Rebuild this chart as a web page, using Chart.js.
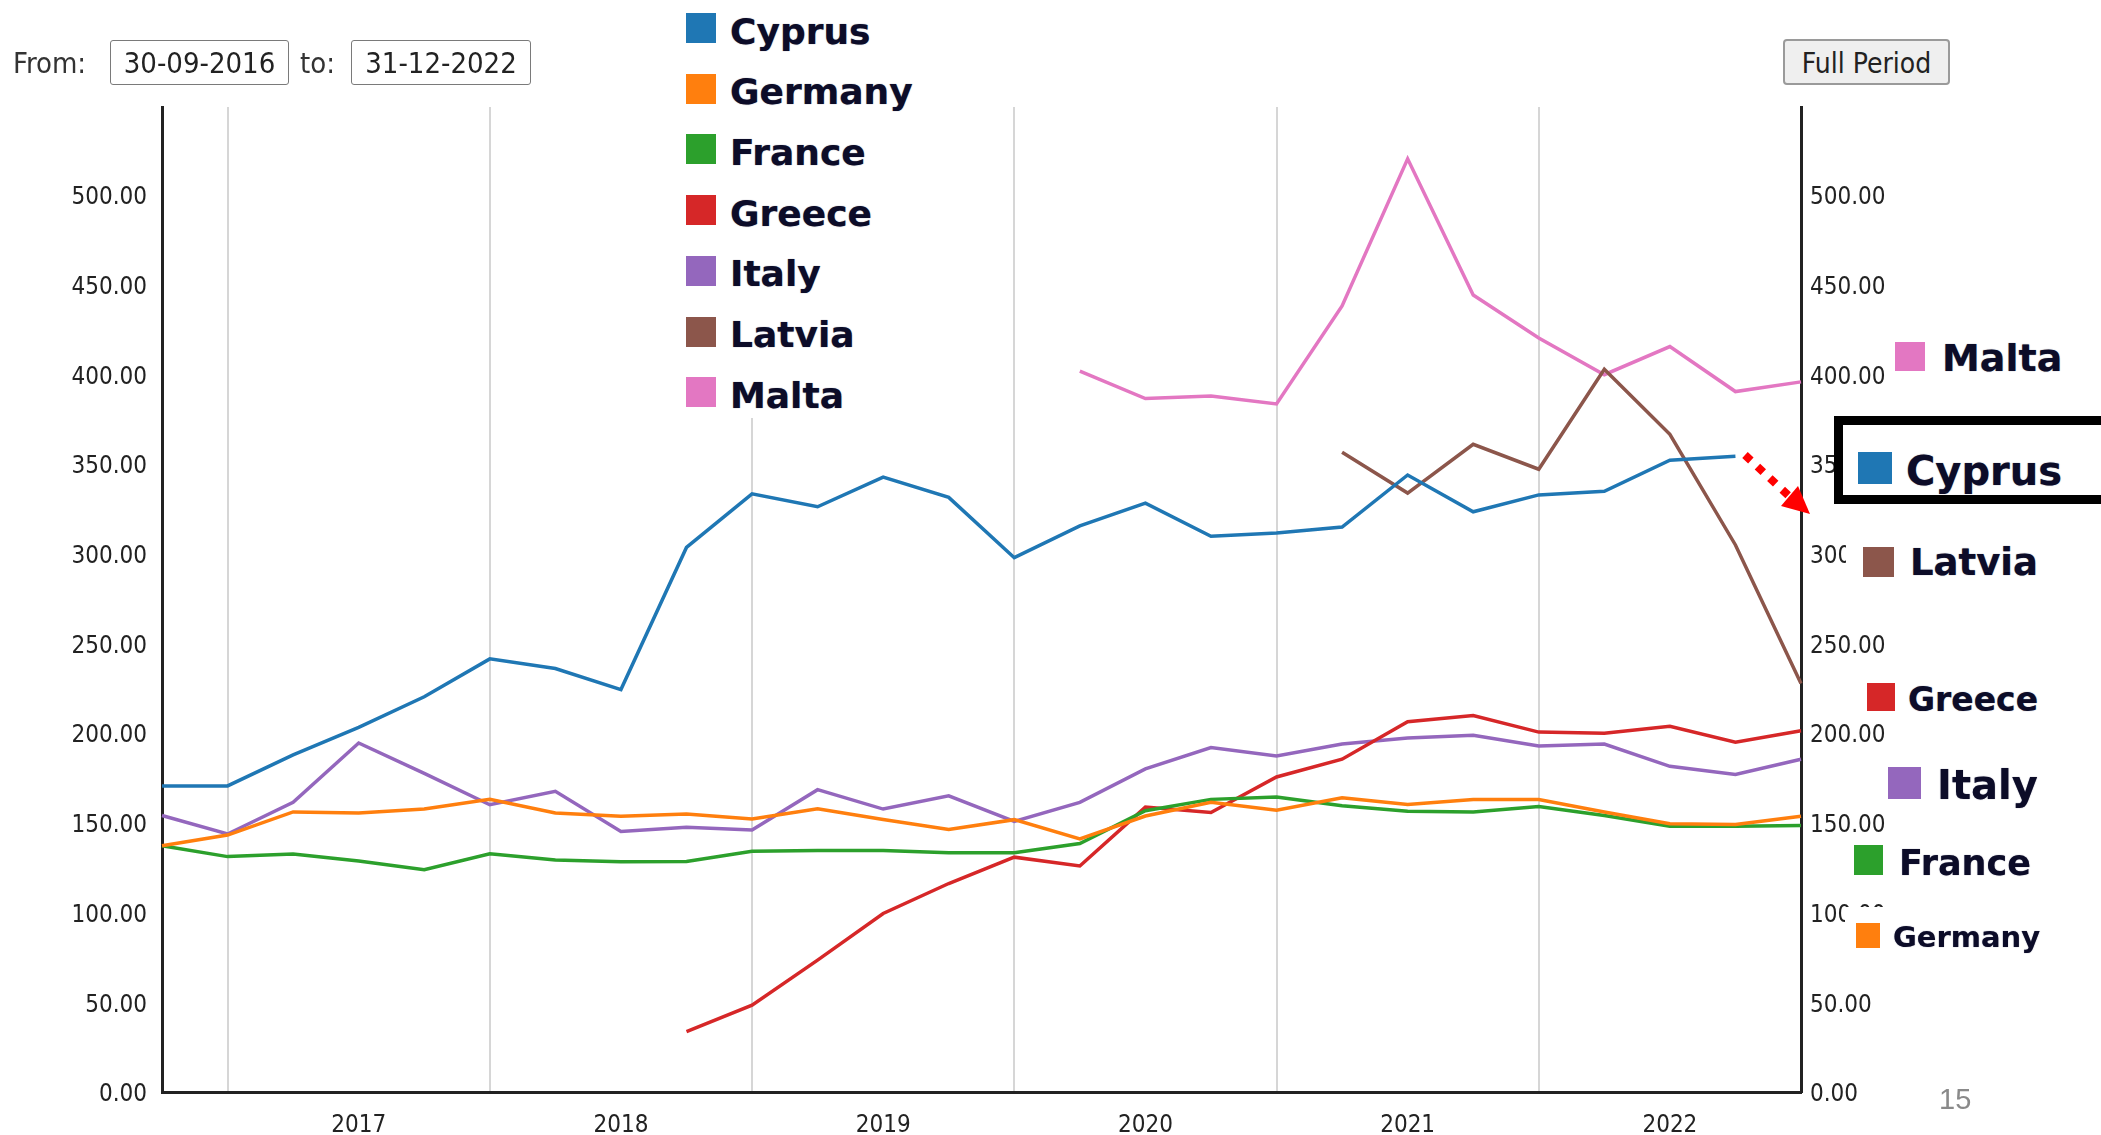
<!DOCTYPE html>
<html>
<head>
<meta charset="utf-8">
<title>Country series 2016-2022</title>
<script src="https://cdn.jsdelivr.net/npm/chart.js@4.4.0/dist/chart.umd.min.js"></script>
<style>
  html, body { margin:0; padding:0; background:#fff; }
  #page { position:relative; width:2101px; height:1135px; overflow:hidden; background:#fff; }
  #wrap { position:absolute; left:0; top:0; width:2101px; height:1135px; }
  .cond { font-family:"DejaVu Sans Condensed","DejaVu Sans",sans-serif; font-stretch:condensed; }
  .lbl { position:absolute; font-size:29px; color:#333; line-height:45px; top:41px; }
  .inp { position:absolute; top:40px; height:43px; border:1px solid #7a7a7a; border-radius:3px; background:#fff;
         font-size:29px; color:#222; line-height:45px; text-align:center; }
  .btn { position:absolute; left:1783px; top:39px; width:163px; height:42px; border:2px solid #9a9a9a; border-radius:4px;
         background:#efefef; font-size:28px; color:#222; line-height:45px; text-align:center; }
  #legend { position:absolute; left:678px; top:0; width:250px; height:418px; background:#fff; }
  .sq { position:absolute; }
  .tx { position:absolute; font-family:"DejaVu Sans",Verdana,sans-serif; font-weight:bold; line-height:1; color:#0c0c28; white-space:nowrap;
        text-shadow:0 0 1px rgba(20,20,60,.6); }
  .side { position:absolute; background:#fff; }
  #pageno { position:absolute; left:1939px; top:1083px; font-family:"Liberation Sans",Arial,sans-serif; font-size:29px; color:#8a8a8a; }
  svg { position:absolute; left:0; top:0; }
</style>
</head>
<body>
<div id="page">
  <div id="wrap"><canvas id="chart"></canvas></div>

  <div class="lbl cond" style="left:13px;">From:</div>
  <div class="inp cond" style="left:110px; width:177px;">30-09-2016</div>
  <div class="lbl cond" style="left:300px;">to:</div>
  <div class="inp cond" style="left:351px; width:178px;">31-12-2022</div>
  <div class="btn cond">Full Period</div>

  <div id="legend"></div>
  <div id="sidelabels"></div>

  <svg width="2101" height="1135">
    <line x1="1745" y1="455" x2="1790" y2="497" stroke="#ff0000" stroke-width="8" stroke-dasharray="8 9"/>
    <polygon points="1781,506 1798,486 1810,514" fill="#ff0000"/>
  </svg>

  <div id="pageno">15</div>
</div>

<script>
// ── DATOS ──
var quarters = ['2016-Q3','2016-Q4',
  '2017-Q1','2017-Q2','2017-Q3','2017-Q4',
  '2018-Q1','2018-Q2','2018-Q3','2018-Q4',
  '2019-Q1','2019-Q2','2019-Q3','2019-Q4',
  '2020-Q1','2020-Q2','2020-Q3','2020-Q4',
  '2021-Q1','2021-Q2','2021-Q3','2021-Q4',
  '2022-Q1','2022-Q2','2022-Q3','2022-Q4'];
var xTickLabels = ['','',
  '','2017','','',
  '','2018','','',
  '','2019','','',
  '','2020','','',
  '','2021','','',
  '','2022','',''];
var yearEndIdx = [1,5,9,13,17,21];
var yTicks = [0,50,100,150,200,250,300,350,400,450,500];

var countries = ['Cyprus','Germany','France','Greece','Italy','Latvia','Malta'];
var colors    = ['#1f77b4','#ff7f0e','#2ca02c','#d62728','#9467bd','#8c564b','#e377c2'];

var cyprus  = [170.6,170.6,187.9,203.2,220.3,241.4,236.0,224.3,303.5,333.4,326.2,342.7,331.4,297.8,315.5,328.2,309.7,311.5,314.9,343.9,323.4,332.8,334.8,352.1,354.3,null];
var germany = [137.2,143.2,156.1,155.5,157.7,163.1,155.5,153.7,155.0,152.2,157.8,151.9,146.3,151.8,141.0,153.8,161.5,157.1,164.0,160.3,163.0,163.0,156.1,149.5,149.1,153.7];
var france  = [137.2,131.2,132.6,128.7,123.9,132.8,129.3,128.3,128.5,134.2,134.6,134.6,133.4,133.3,138.5,156.8,163.1,164.4,159.5,156.5,156.1,159.1,154.1,148.1,148.1,148.5];
var greece  = [null,null,null,null,null,null,null,null,33.6,48.4,73.5,99.5,116.2,130.9,126.0,158.8,155.8,175.6,185.5,206.4,209.8,200.6,200.0,203.8,194.9,201.4];
var italy   = [154.1,143.8,161.5,194.5,177.6,160.1,167.6,145.2,147.5,146.0,168.5,157.7,165.1,150.8,161.4,180.1,192.0,187.3,193.9,197.3,198.8,192.9,193.9,181.5,177.0,185.5];
var latvia  = [null,null,null,null,null,null,null,null,null,null,null,null,null,null,null,null,null,null,356.6,333.8,361.0,347.1,402.8,366.6,304.9,227.7];
var malta   = [null,null,null,null,null,null,null,null,null,null,null,null,null,null,401.8,386.5,387.9,383.5,438.1,520.1,444.2,420.3,399.8,415.5,390.4,395.8];

var series = [cyprus, germany, france, greece, italy, latvia, malta];

// ── LEYENDA SUPERIOR ──
var legendEl = document.getElementById('legend');
countries.forEach(function(c, i) {
  var y = 13 + i * 60.7;
  legendEl.innerHTML += '<div class="sq" style="left:' + (686-678) + 'px;top:' + y + 'px;width:30px;height:30px;background:' + colors[i] + '"></div>' +
    '<div class="tx" style="left:' + (730-678) + 'px;top:' + (y + 0.5) + 'px;font-size:36px">' + c + '</div>';
});

// ── ETIQUETAS LATERALES (anotaciones de la diapositiva) ──
// [nombre, caja(x,y,w,h), cuadro(x,y,w,h), texto(x, top), tamaño]
var sideLayout = [
  ['Malta',   [1890,332,211,50], [1895,342,30,29], [1942,339], 38],
  ['Latvia',  [1846,530,255,62], [1863,547,31,30], [1910,544], 37],
  ['Greece',  [1858,670,243,52], [1867,683,28,28], [1908,683], 33],
  ['Italy',   [1878,755,223,55], [1888,767,33,32], [1937,765], 40],
  ['France',  [1845,838,256,50], [1854,845,29,30], [1899,846], 35],
  ['Germany', [1845,907,256,53], [1856,923,24,25], [1893,923], 29]
];
var sideEl = document.getElementById('sidelabels');
var html = '';
sideLayout.forEach(function(s) {
  var col = colors[countries.indexOf(s[0])];
  html += '<div class="side" style="left:' + s[1][0] + 'px;top:' + s[1][1] + 'px;width:' + s[1][2] + 'px;height:' + s[1][3] + 'px"></div>';
  html += '<div class="sq" style="left:' + s[2][0] + 'px;top:' + s[2][1] + 'px;width:' + s[2][2] + 'px;height:' + s[2][3] + 'px;background:' + col + '"></div>';
  html += '<div class="tx" style="left:' + s[3][0] + 'px;top:' + s[3][1] + 'px;font-size:' + s[4] + 'px">' + s[0] + '</div>';
});
// Cyprus destacado en recuadro negro
html += '<div class="side" style="left:1834px;top:416px;width:290px;height:70px;border:9px solid #000"></div>';
html += '<div class="sq" style="left:1858px;top:452px;width:34px;height:32px;background:' + colors[0] + '"></div>';
html += '<div class="tx" style="left:1906px;top:451px;font-size:40px">Cyprus</div>';
sideEl.innerHTML = html;

// ── GRÁFICO ──
var fontC = '"DejaVu Sans Condensed", "DejaVu Sans", sans-serif';

var yAxisBase = function(pos, pad, width) {
  return {
    position: pos, min: 0, max: 549,
    grid: { display: false, drawTicks: false },
    border: { color: '#222', width: 3 },
    ticks: { padding: pad, labelOffset: 3, color: '#222', font: { family: fontC, size: 24 },
             callback: function(v) { return Number(v).toFixed(2); } },
    afterBuildTicks: function(s) { s.ticks = yTicks.map(function(v) { return { value: v }; }); },
    afterFit: function(s) { s.width = width; }
  };
};

new Chart(document.getElementById('chart'), {
  type: 'line',
  data: {
    labels: quarters,
    datasets: countries.map(function(c, i) {
      return { label: c, data: series[i], borderColor: colors[i], backgroundColor: colors[i],
               borderWidth: 3.5, pointRadius: 0, tension: 0, fill: false, spanGaps: false };
    })
  },
  options: {
    responsive: true, maintainAspectRatio: false, animation: false,
    layout: { padding: { top: 107, left: 0, right: 0, bottom: 0 } },
    plugins: { legend: { display: false }, tooltip: { enabled: false } },
    scales: {
      x: {
        offset: false,
        grid: { lineWidth: 2, drawTicks: false,
                color: function(c) { return yearEndIdx.indexOf(c.index) >= 0 ? '#d6d6d6' : 'rgba(0,0,0,0)'; } },
        border: { color: '#222', width: 3 },
        ticks: { autoSkip: false, maxRotation: 0, padding: 19, color: '#222', font: { family: fontC, size: 24 },
                 callback: function(v, i) { return xTickLabels[i]; } },
        afterFit: function(s) { s.height = 43; }
      },
      y: yAxisBase('left', 15, 162),
      y2: yAxisBase('right', 9, 300)
    }
  }
});
</script>
</body>
</html>
